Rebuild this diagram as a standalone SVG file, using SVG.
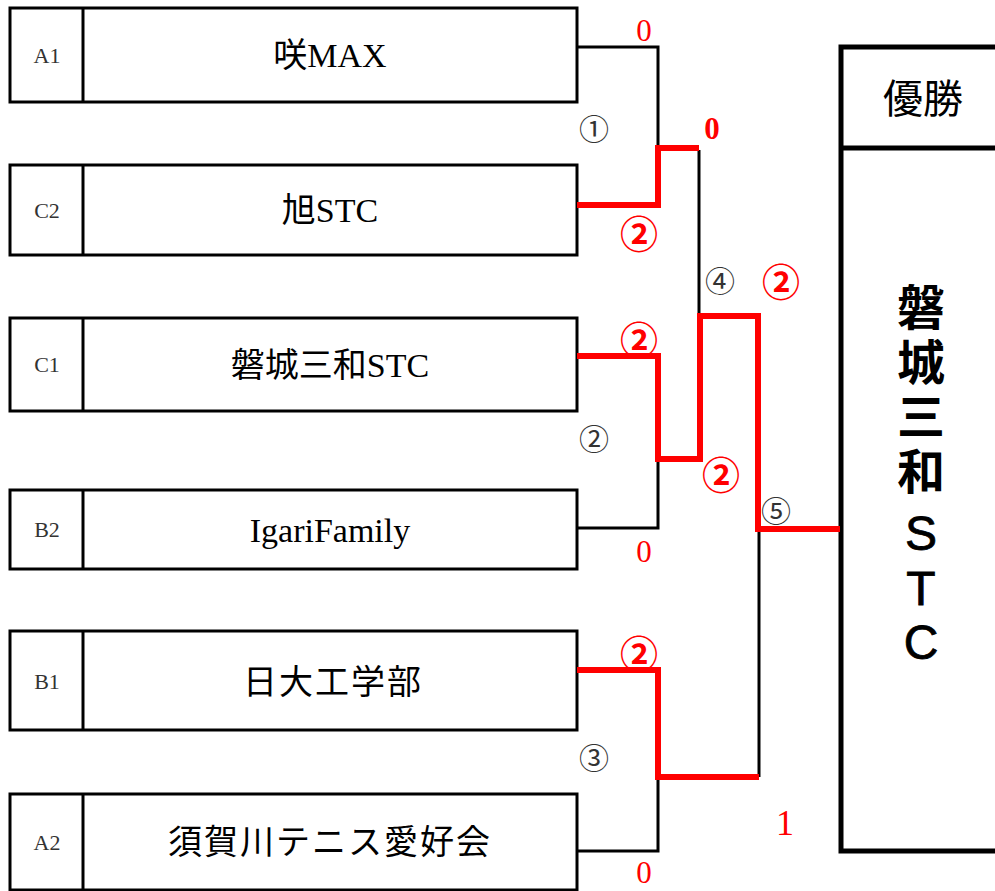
<svg xmlns="http://www.w3.org/2000/svg" width="995" height="891" viewBox="0 0 995 891">
<style>
.box{fill:#fff;stroke:#000;stroke-width:3}
.div{stroke:#000;stroke-width:3}
.seed{font-family:"Liberation Serif","Noto Sans CJK JP",serif;font-size:22px;fill:#333;text-anchor:middle;dominant-baseline:central}
.name{font-family:"Liberation Serif","Noto Sans CJK JP",serif;font-size:34px;fill:#000;text-anchor:middle;dominant-baseline:central}
.blk{fill:none;stroke:#000;stroke-width:3}
.red{fill:none;stroke:#f00;stroke-width:6}
.sc{font-family:"Liberation Serif",serif;font-size:31px;fill:#f00;text-anchor:middle;dominant-baseline:central}
.big{font-size:36px}
.rc{font-family:"Noto Sans CJK JP",sans-serif;font-size:38px;font-weight:bold;fill:#f00;text-anchor:middle;dominant-baseline:central}
.gc{font-family:"Noto Sans CJK JP",sans-serif;font-size:30px;fill:#333;text-anchor:middle;dominant-baseline:central}
.win{font-family:"Liberation Sans","Noto Sans CJK JP",sans-serif;font-size:48px;font-weight:bold;fill:#000;text-anchor:middle;dominant-baseline:central}
.winl{font-family:"Liberation Sans",sans-serif;font-size:48px;fill:#000;stroke:#000;stroke-width:0.8;text-anchor:middle;dominant-baseline:central}
</style>
<rect width="995" height="891" fill="#fff"/>
<g id="team-a1"><rect class="box" x="10" y="8" width="567" height="94"/><line class="div" x1="83" y1="8" x2="83" y2="102"/><text class="seed" x="47" y="55">A1</text><text class="name" x="330" y="55">咲MAX</text></g>
<g id="team-c2"><rect class="box" x="10" y="165" width="567" height="90"/><line class="div" x1="83" y1="165" x2="83" y2="255"/><text class="seed" x="47" y="210">C2</text><text class="name" x="330" y="210">旭STC</text></g>
<g id="team-c1"><rect class="box" x="10" y="318" width="567" height="93"/><line class="div" x1="83" y1="318" x2="83" y2="411"/><text class="seed" x="47" y="364">C1</text><text class="name" x="330" y="365">磐城三和STC</text></g>
<g id="team-b2"><rect class="box" x="10" y="490" width="567" height="79"/><line class="div" x1="83" y1="490" x2="83" y2="569"/><text class="seed" x="47" y="529">B2</text><text class="name" x="330" y="530">IgariFamily</text></g>
<g id="team-b1"><rect class="box" x="10" y="631" width="567" height="99"/><line class="div" x1="83" y1="631" x2="83" y2="730"/><text class="seed" x="47" y="681">B1</text><text class="name" x="333" y="682" letter-spacing="2">日大工学部</text></g>
<g id="team-a2"><rect class="box" x="10" y="794" width="567" height="96"/><line class="div" x1="83" y1="794" x2="83" y2="890"/><text class="seed" x="47" y="842">A2</text><text class="name" x="330" y="842" letter-spacing="2">須賀川テニス愛好会</text></g>
<g id="champion"><rect x="841" y="47" width="200" height="804" fill="#fff" stroke="#000" stroke-width="5"/><line x1="841" y1="148" x2="995" y2="148" stroke="#000" stroke-width="5"/><text x="923" y="99" font-family="Liberation Serif,'Noto Sans CJK JP',serif" font-size="40" text-anchor="middle" dominant-baseline="central">優勝</text>
<text class="win" x="921" y="308">磐</text><text class="win" x="921" y="363">城</text><text class="win" x="921" y="417">三</text><text class="win" x="921" y="472">和</text><text class="winl" x="921" y="533">S</text><text class="winl" x="921" y="588">T</text><text class="winl" x="921" y="642">C</text></g>
<g id="connectors">
<path class="blk" d="M577,47 H658 V148"/>
<path class="blk" d="M699,150 V316"/>
<path class="blk" d="M577,528 H658 V459"/>
<path class="blk" d="M577,851 H658 V777"/>
<path class="blk" d="M759,529 V777"/>
<path class="red" d="M577,205 H658 V148 H699"/>
<path class="red" d="M577,356 H658 V459 H700 V316 H758 V529 H840"/>
<path class="red" d="M577,670 H658 V777 H759"/>
</g>
<g id="labels">
<text class="sc" x="644" y="30">0</text>
<text class="gc" x="594" y="127">①</text>
<text class="sc" x="712" y="128" font-weight="bold">0</text>
<text class="rc" x="639" y="231">②</text>
<text class="gc" x="720" y="279">④</text>
<text class="rc" x="781" y="279">②</text>
<text class="rc" x="639" y="337">②</text>
<text class="gc" x="594" y="437">②</text>
<text class="rc" x="721" y="472">②</text>
<text class="gc" x="776" y="509">⑤</text>
<text class="sc" x="644" y="551">0</text>
<text class="rc" x="639" y="651">②</text>
<text class="gc" x="594" y="756">③</text>
<text class="sc big" x="785" y="823">1</text>
<text class="sc" x="644" y="872">0</text>
</g>
</svg>
